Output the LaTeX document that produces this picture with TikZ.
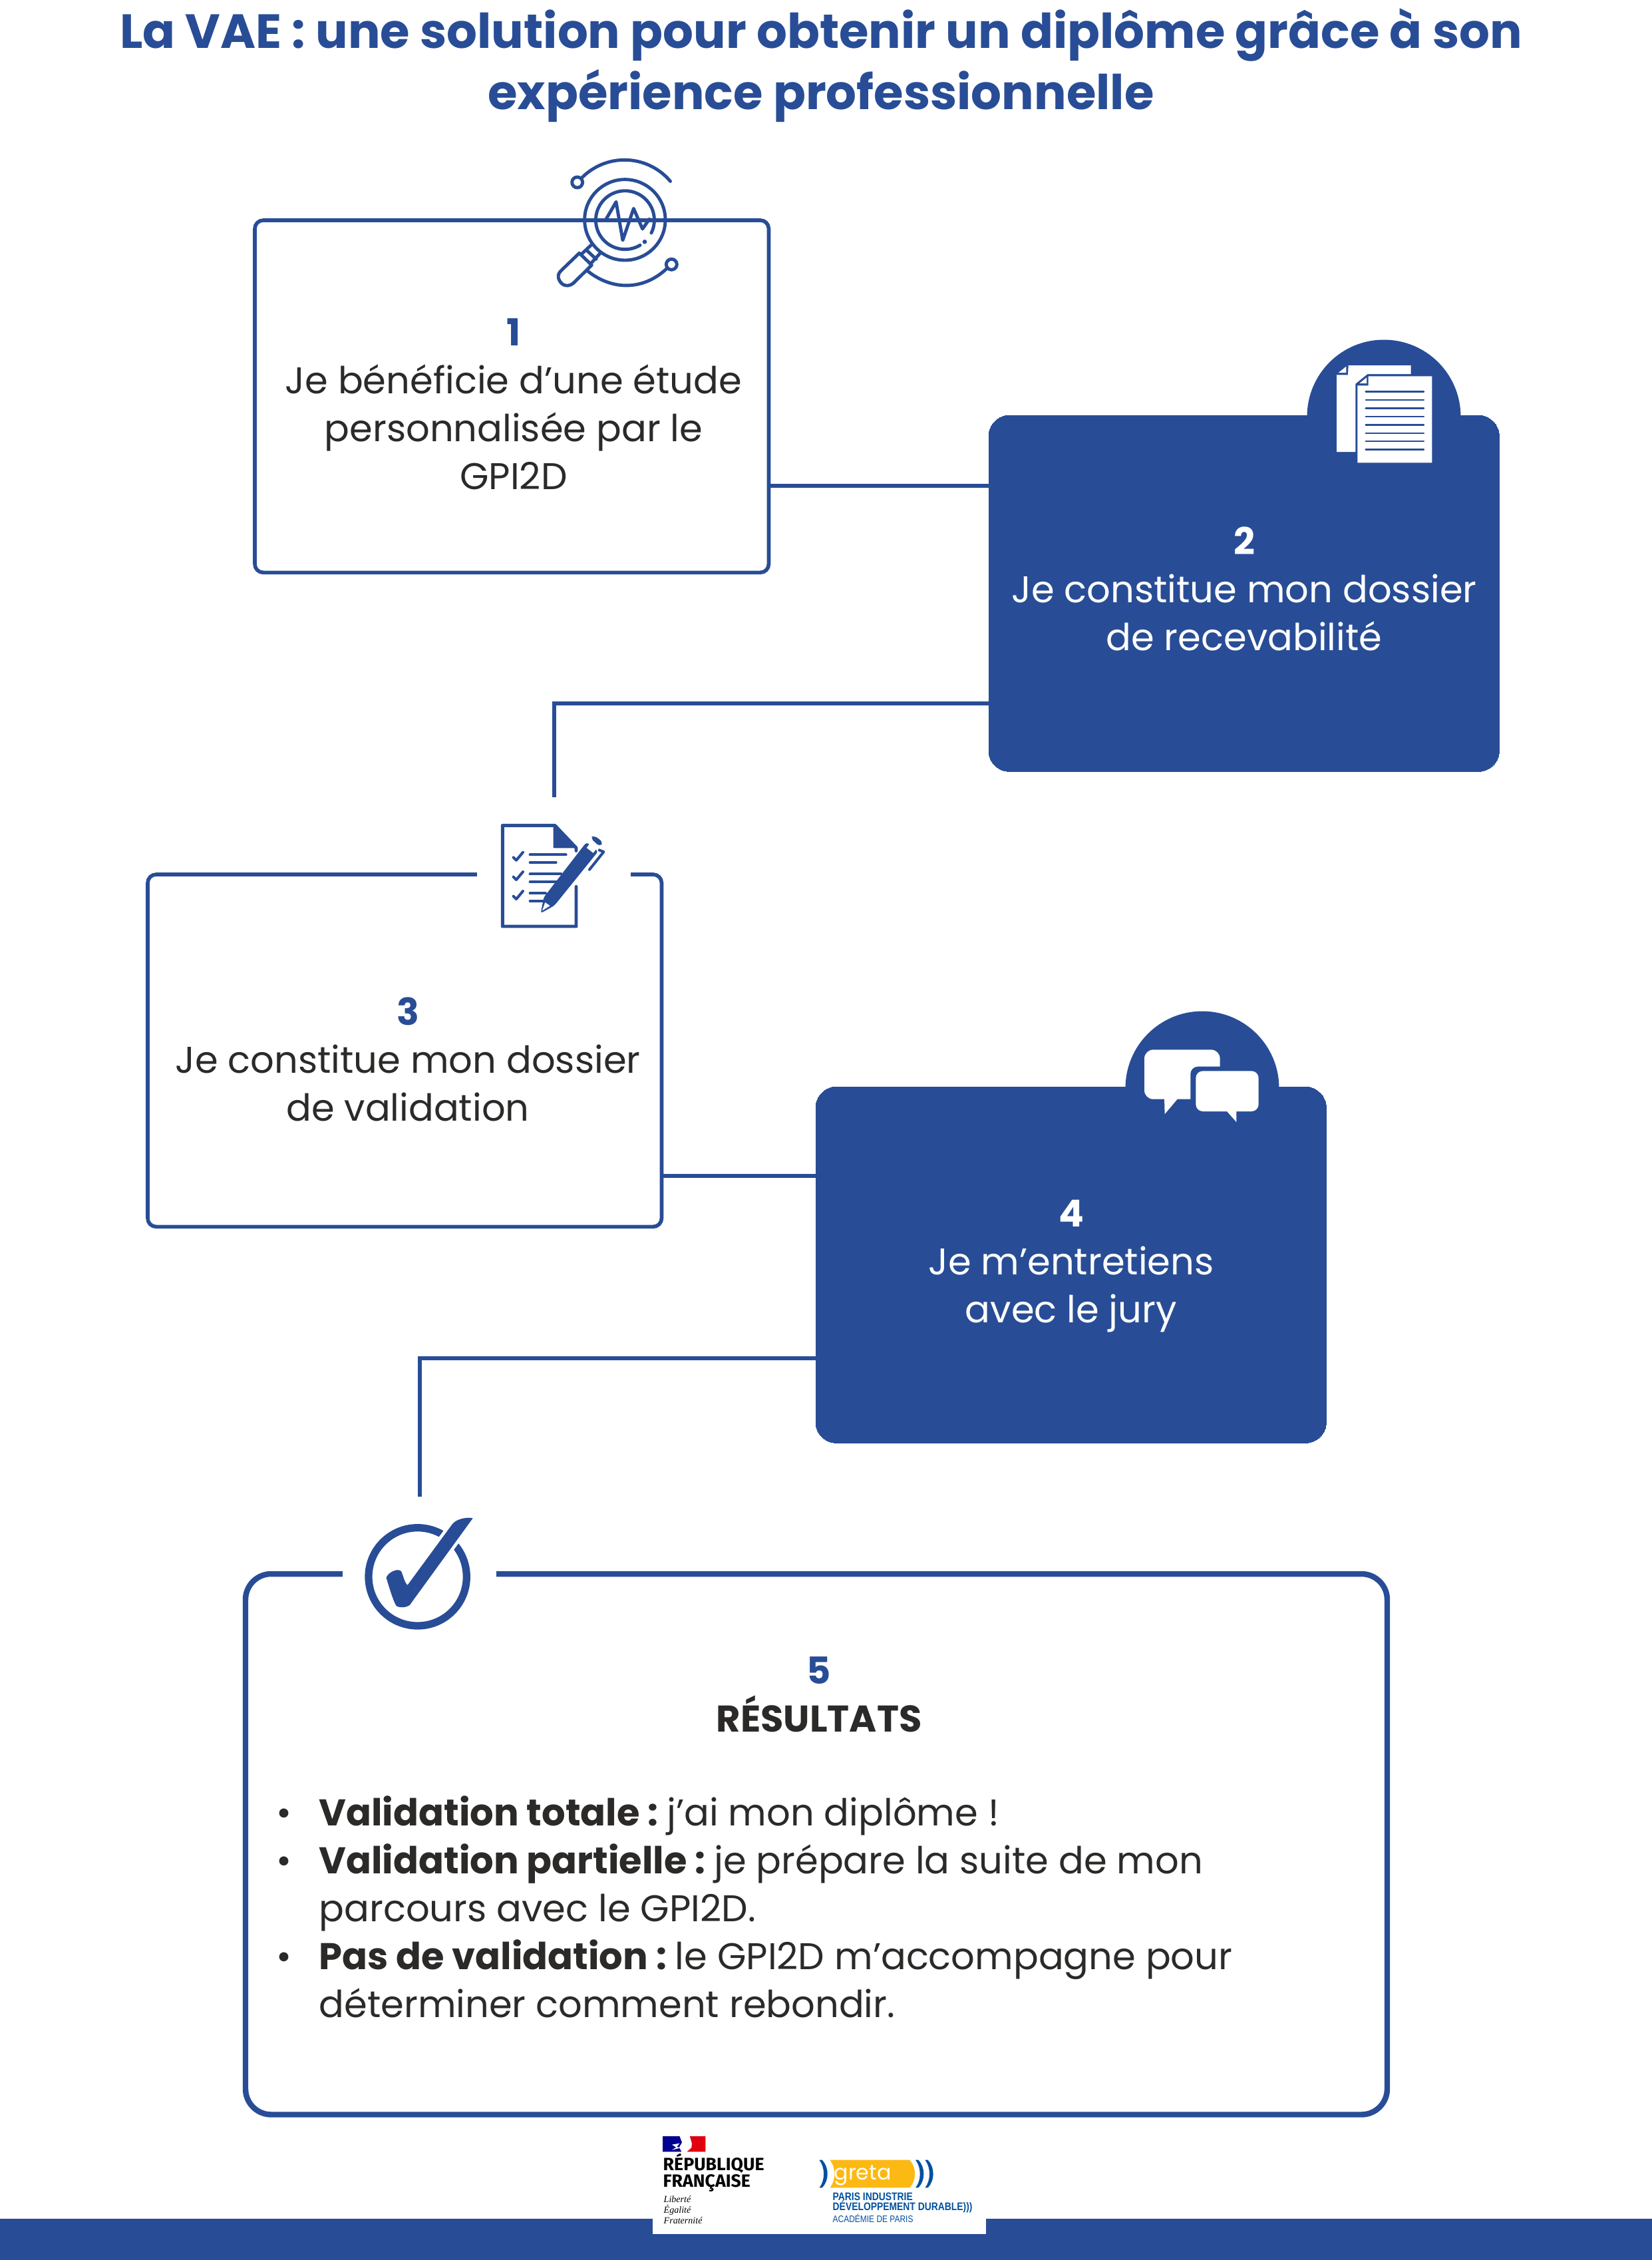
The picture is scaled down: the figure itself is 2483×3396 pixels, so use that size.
\documentclass[tikz,border=0pt]{standalone}
\usepackage{fontspec}
\setmainfont{Poppins}
\newfontfamily\rfont{Fira Sans}
\newfontfamily\sfont{Liberation Serif}
\newfontfamily\cfont[FakeStretch=0.84]{Liberation Sans}
\definecolor{bl}{HTML}{284D96}
\definecolor{ink}{HTML}{2B2A29}
\definecolor{gbl}{HTML}{00509F}
\definecolor{gye}{HTML}{FDB913}
\definecolor{mblue}{HTML}{000091}
\definecolor{mred}{HTML}{E1000F}
\tikzset{
  px/.style={x=0.01cm,y=-0.01cm},
  zoomed/.style={shift={(#1)},scale=1/3},
  zoomedf/.style={shift={(#1)},xscale=1/2.8,yscale=1/3},
  outbox/.style={draw=bl,fill=white,line width=1.6pt,rounded corners=3.6pt,minimum width=7.72cm,minimum height=5.29cm,inner sep=0pt,outer sep=0pt,anchor=north west},
  fullbox/.style={fill=bl,draw=bl,line width=0pt,rounded corners=9pt,minimum width=7.67cm,minimum height=5.35cm,inner sep=0pt,outer sep=0pt,anchor=north west},
  resbox/.style={draw=bl,fill=white,line width=2.4pt,rounded corners=11pt,minimum width=17.15cm,minimum height=8.12cm,inner sep=0pt,outer sep=0pt,anchor=north west},
  link/.style={draw=bl,line width=1.8pt},
  body/.style={font=\fontsize{15.9}{20.45}\selectfont,text=ink,inner sep=0pt,anchor=base},
  bodyw/.style={body,text=white},
  ic/.style={draw=bl,line width=1.4pt,line cap=round,line join=round},
  ict/.style={draw=bl,line width=1.15pt,line cap=round,line join=round},
  pw/.style={fill=white},
  plain/.style={inner sep=0pt,anchor=base west},
}
\begin{document}
\begin{tikzpicture}[px]
\useasboundingbox (0,0) rectangle (2483,3396);
% title
\node[inner sep=0pt,anchor=base,text=bl,align=center,font=\fontsize{20.5}{25.9}\selectfont\bfseries] (title) at (1234,164) {La VAE : une solution pour obtenir un diplôme grâce à son\\expérience professionnelle};

% boxes
\node[outbox] (b1) at (383,331) {};
\node[fullbox] (b2) at (1486,624) {};
\fill[bl] (2080,626) ++(-115.5,0) arc[start angle=180,end angle=360,radius=115.5] -- cycle;
\node[outbox] (b3) at (222,1314) {};
\node[fullbox] (b4) at (1226,1633) {};
\fill[bl] (1807,1635) ++(-115.5,0) arc[start angle=180,end angle=360,radius=115.5] -- cycle;
\node[resbox] (b5) at (369,2365) {};

% connectors
\coordinate (c12) at (1300,730);
\coordinate (c23) at (833,1057);
\coordinate (e23) at (833,1198);
\coordinate (c34) at (1100,1767);
\coordinate (c45) at (631,2041);
\coordinate (e45) at (631,2249);
\draw[link] (b1.east |- c12) -- (b2.west |- c12);
\draw[link] (b2.west |- c23) -- (c23) -- (e23);
\draw[link] (b3.east |- c34) -- (b4.west |- c34);
\draw[link] (b4.west |- c45) -- (c45) -- (e45);

% texts
\node[body,align=center] (t1) at (772,735) {\textcolor{bl}{\bfseries 1}\\Je bénéficie d’une étude\\personnalisée par le\\GPI2D};
\node[bodyw,align=center] (t2) at (1870,977) {{\bfseries 2}\\Je constitue mon dossier\\de recevabilité};
\node[body,align=center] (t3) at (613,1684) {\textcolor{bl}{\bfseries 3}\\Je constitue mon dossier\\de validation};
\node[bodyw,align=center] (t4) at (1610,1987) {{\bfseries 4}\\Je m’entretiens\\avec le jury};
\node[body,align=center] (t5) at (1231,2602) {\textcolor{bl}{\bfseries 5}\\\bfseries RÉSULTATS};
\node[body,align=left,anchor=base west] (t6) at (479,3031) {\textbf{Validation totale :}\hspace{-2pt} j’ai mon diplôme !\\\textbf{Validation partielle :}\hspace{-2pt} je prépare la suite de mon\\parcours avec le GPI2D.\\\textbf{Pas de validation :}\hspace{-2pt} le GPI2D m’accompagne pour\\déterminer comment rebondir.};
\node[body,align=center] (t7) at (427,3031) {•\\•\\\mbox{}\\•\\\mbox{}};

% icon 1 : magnifier (on the top line of box 1)
\begin{scope}[zoomed={780,200}]
\draw[bl,line width=1.0pt] (185,390) -- (775,390);
\draw[ic] (478,391) circle[radius=182];
\draw[ic] (597,450) arc[start angle=26,end angle=-301,radius=132];
\fill[bl] (567,490) circle[radius=10];
\draw[ic] (390,393) -- (438,310) -- (468,483) -- (517,340) -- (557,432) -- (588,388);
\draw[ic] (285,200) arc[start angle=-135,end angle=-40,radius=270];
\draw[ic] (263,222) circle[radius=24];
\draw[ic] (310,622) .. controls (420,710) and (560,710) .. (665,612);
\draw[ic] (688,592) circle[radius=24];
\draw[ic] (325,505) -- (272,555);
\draw[ic] (365,543) -- (322,590);
\draw[ic] (305,528) -- (348,568);
\draw[ic,fill=white] (272,541) -- (328,595) -- (247,675) .. controls (225,695) and (195,690) .. (183,665) .. controls (172,645) and (178,632) .. (190,620) -- cycle;
\end{scope}

% icon 2 : two pages
\begin{scope}[zoomed={1900,480}]
\fill[pw] (380,207) -- (662,207) -- (662,246) -- (466,246) -- (412,290) -- (412,597) -- (327,597) -- (327,250) -- (378,250) -- cycle;
\fill[pw] (335,240) -- (370,240) -- (370,212) -- cycle;
\fill[pw] (470,256) -- (757,256) -- (757,646) -- (421,646) -- (421,298) -- (470,298) -- cycle;
\fill[pw] (430,288) -- (462,288) -- (462,262) -- cycle;
\foreach \yy in {326,363,401,438,475,513,549,587}
  \draw[bl,line width=0.7pt,line cap=round] (458,\yy) -- (720,\yy);
\end{scope}

% icon 3 : form and pen
\fill[white] (717,1300) rectangle (948,1328);
\begin{scope}[zoomed={680,1200}]
\draw[ic] (558,397) -- (558,576) -- (226,576) -- (226,121) -- (462,121) -- (558,222) -- (558,235);
\fill[bl,draw=bl,line width=0.6pt,line join=round] (458,123) -- (458,220) -- (558,220) -- cycle;
\foreach \dy in {0,88,175}
  \draw[ict] (275,265+\dy) -- (288,278+\dy) -- (318,242+\dy);
\draw[ict] (350,253) -- (512,253);
\draw[ict] (350,288) -- (467,288);
\draw[ict] (350,340) -- (490,340);
\draw[ict] (350,375) -- (475,375);
\draw[ict] (350,427) -- (420,427);
\draw[ict] (350,462) -- (410,462);
\fill[bl,rounded corners=1pt] (412,445) -- (590,215) -- (605,197) -- (657,238) -- (460,482) -- (398,517) -- cycle;
\fill[white] (418,468) -- (405,505) -- (440,483) -- cycle;
\fill[white] (618,205) -- (648,228) -- (635,245) -- (605,222) -- cycle;
\fill[bl,rounded corners=1.5pt] (622,178) -- (638,165) -- (680,197) -- (665,217) -- cycle;
\draw[ict] (662,232) -- (682,240) -- (618,320);
\end{scope}

% icon 4 : speech bubbles
\begin{scope}[zoomed={1660,1500}]
\fill[white,rounded corners=3.8pt] (180,455) -- (180,232) -- (521,232) -- (521,455) -- cycle;
\fill[white] (270,450) -- (272,522) -- (333,450) -- cycle;
\fill[bl,rounded corners=3.2pt] (388,560) -- (388,308) -- (720,308) -- (720,560) -- cycle;
\fill[white,rounded corners=3pt] (412,510) -- (412,328) -- (695,328) -- (695,510) -- cycle;
\fill[white] (548,505) -- (595,558) -- (595,505) -- cycle;
\end{scope}

% icon 5 : check in a circle
\fill[white] (515,2350) rectangle (746,2380);
\begin{scope}[zoomed={480,2240}]
\draw[bl,line width=3.2pt] (443,388) circle[radius=221];
\draw[white,line width=2.7pt,line join=round] (302,393) .. controls (305,372) and (350,347) .. (368,362) .. controls (375,370) and (385,420) .. (398,425) -- (600,150) .. controls (620,125) and (670,118) .. (692,124) -- (415,505) .. controls (405,530) and (360,528) .. (348,520) .. controls (335,505) and (310,420) .. (302,393) -- cycle;
\fill[bl] (302,393) .. controls (305,372) and (350,347) .. (368,362) .. controls (375,370) and (385,420) .. (398,425) -- (600,150) .. controls (620,125) and (670,118) .. (692,124) -- (415,505) .. controls (405,530) and (360,528) .. (348,520) .. controls (335,505) and (310,420) .. (302,393) -- cycle;
\end{scope}

% footer
\fill[bl] (0,3334) rectangle (2483,3396);
\fill[white] (981,3320) rectangle (1482,3357);

\begin{scope}[zoomedf={960,3190}]
\fill[mblue] (101,60) -- (172,60) -- (182,88) -- (170,110) -- (180,130) -- (101,130) -- cycle;
\fill[white] (140,98) -- (172,92) -- (160,108) -- (176,112) -- (140,122) -- (158,110) -- cycle;
\fill[mred] (215,60) -- (281,60) -- (281,130) -- (203,130) -- (222,112) -- (224,92) -- cycle;
\end{scope}
\node[plain,font=\fontsize{7.6}{9}\selectfont\rfont\bfseries,text=black] (rf) at (996,3261) {RÉPUBLIQUE};
\node[plain,font=\fontsize{7.6}{9}\selectfont\rfont\bfseries,text=black] (rf2) at (996,3286) {FRANÇAISE};
\node[plain,font=\fontsize{4}{5}\selectfont\sfont\itshape,text=black] (d1) at (997,3309) {Liberté};
\node[plain,font=\fontsize{4}{5}\selectfont\sfont\itshape,text=black] (d2) at (997,3325) {Égalité};
\node[plain,font=\fontsize{4}{5}\selectfont\sfont\itshape,text=black] (d3) at (997,3341) {Fraternité};

\begin{scope}[zoomedf={960,3190}]
\fill[gye] (805,167) -- (1140,167) .. controls (1170,200) and (1170,260) .. (1140,292) -- (805,292) .. controls (830,260) and (830,200) .. (805,167) -- cycle;
\foreach \xx in {760,1165,1205}
  \fill[gbl] (\xx,167) -- (\xx+12,167) .. controls (\xx+42,200) and (\xx+42,260) .. (\xx+12,292) -- (\xx,292) .. controls (\xx+25,260) and (\xx+25,200) .. (\xx,167) -- cycle;
\end{scope}
\node[plain,font=\fontsize{9}{11}\selectfont,text=white] (g) at (1253,3275) {greta};
\node[plain,font=\fontsize{4.7}{6}\selectfont\cfont\bfseries,text=gbl] (g1) at (1251,3306) {PARIS INDUSTRIE};
\node[plain,font=\fontsize{4.7}{6}\selectfont\cfont\bfseries,text=gbl] (g2) at (1251,3321) {DÉVELOPPEMENT DURABLE)))};
\node[plain,font=\fontsize{4.05}{5}\selectfont\cfont,text=gbl] (g3) at (1251,3339) {ACADÉMIE DE PARIS};
\end{tikzpicture}
\end{document}
